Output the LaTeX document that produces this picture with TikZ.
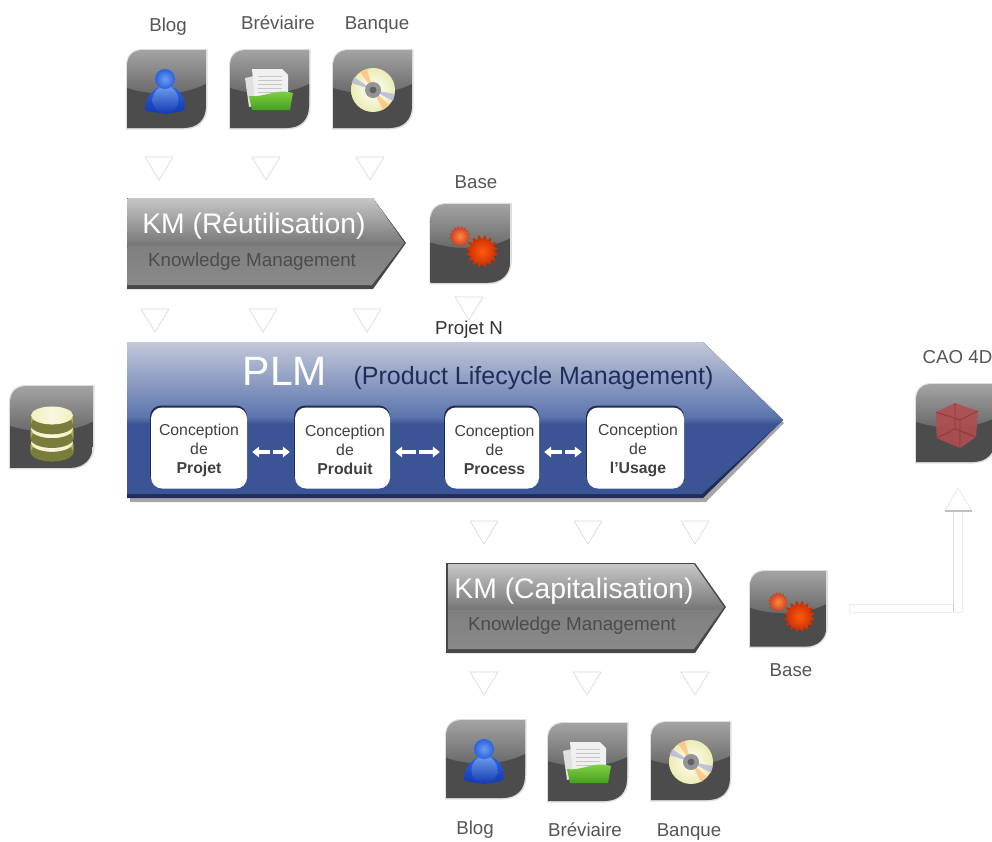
\documentclass[tikz,border=0pt]{standalone}
\usepackage{fontspec}
\setmainfont{Liberation Sans}
\usetikzlibrary{arrows.meta,calc}
\definecolor{lbl}{HTML}{555555}
\definecolor{plmdark}{HTML}{3B5495}
\definecolor{plmtop}{HTML}{C2C8D8}
\definecolor{plmmid}{HTML}{5E76AE}
\definecolor{navy}{HTML}{1F2D5A}
\definecolor{bluehi}{HTML}{6E9CF0}
\definecolor{bluemid}{HTML}{2A62E0}
\definecolor{bluelo}{HTML}{1238B0}
\definecolor{greenhi}{HTML}{8AD84A}
\definecolor{greenlo}{HTML}{45A020}
\definecolor{cubefill}{HTML}{B04E50}
\definecolor{cubeedge}{HTML}{8E3A3C}
\definecolor{gearA}{HTML}{FF8A40}
\definecolor{gearAo}{HTML}{C83A20}
\definecolor{gearB}{HTML}{FF5A10}
\definecolor{gearBo}{HTML}{C42A00}
\definecolor{dbhi}{HTML}{F0F0C0}
\definecolor{dblo}{HTML}{A8A858}
\definecolor{dbtop}{HTML}{F8F8E0}
\definecolor{dbgap}{HTML}{7A7C3C}
\tikzset{
  x=1pt,y=-1pt,
  lab/.style={text=lbl,font=\fontsize{18.7}{20}\selectfont,inner sep=0pt,anchor=base},
  tri/.style={draw=black!14,fill=white,line width=.7pt,line join=round},
  cbox/.style={fill=white,rounded corners=11pt,minimum width=#1,minimum height=81pt,inner sep=0pt,align=center,
     text=black!75,font=\fontsize{15.8}{19}\selectfont},
  dbl/.style={white,line width=4.2pt,-{Triangle[length=7pt,width=10.5pt]},shorten <=1.5pt},
  ghost/.style={draw=black!10,fill=white,line width=.7pt,line join=round}
}
\newcommand{\tridown}[2]{\path[tri] (#1-14,#2) -- (#1+14,#2) -- (#1,#2+23) -- cycle;}
\newcommand{\tileshape}{(0,78) -- (0,16) .. controls (0,6) and (6,0) .. (16,0) -- (79,0) -- (79,56) .. controls (79,70) and (70,78) .. (57,78) -- cycle}
\newcommand{\tilebody}{%
  \fill[black!13] (-1,79.5) -- (-1,16) .. controls (-1,5) and (5,-1) .. (16,-1) -- (80.5,-1) -- (80.5,56) .. controls (80.5,71) and (71,79.5) .. (57,79.5) -- cycle;
  \begin{scope}
    \clip \tileshape;
    \shade[top color=black!36,bottom color=black!60] (0,0) rectangle (79,46);
    \begin{scope}
      \clip (0,38) .. controls (25,46) and (55,46) .. (79,34) -- (79,80) -- (0,80) -- cycle;
      \shade[top color=black!70,middle color=black!56,bottom color=black!70] (0,32) rectangle (79,80);
    \end{scope}
  \end{scope}}
\newcommand{\spiky}[6]{%
  \shade[inner color=#4,outer color=#5] plot[samples=33,domain=0:32,variable=\k]
    ({#1+#3*(1+#6*mod(round(\k),2))*cos(11.25*round(\k))},{#2+#3*(1+#6*mod(round(\k),2))*sin(11.25*round(\k))}) -- cycle;}
\newcommand{\iconperson}{%
  \shade[top color=bluemid,bottom color=bluelo] (18,60) .. controls (18,50) and (24,42) .. (30,38) -- (48,38) .. controls (54,42) and (60,50) .. (57,60) .. controls (50,64) and (26,64) .. (18,60) -- cycle;
  \shade[top color=bluehi,bottom color=bluelo] (38.5,50) ellipse (13 and 14);
  \shade[inner color=bluehi,outer color=bluemid] (38,29) circle (10);}
\newcommand{\iconfolder}{%
  \fill[black!12] (15,28) -- (24,26) -- (28,55) -- (19,57) -- cycle;
  \fill[black!6] (22,19) -- (52,19) -- (58,25) -- (58,52) -- (25,52) -- cycle;
  \foreach \yy in {26,30,34,38,42}{\draw[black!22,line width=.7pt] (28,\yy) -- (52,\yy);}
  \shade[top color=greenhi,bottom color=greenlo] (19,46) .. controls (35,48) and (45,38) .. (63,43) -- (60,60) -- (22,60) -- cycle;}
\newcommand{\iconcd}{%
  \shade[inner color=white,outer color=black!25!yellow!30!white] (40,40) circle (22);
  \fill[orange!50,opacity=.8] (40,40) -- (34,19) -- (27,22) -- cycle;
  \fill[blue!30!gray!45,opacity=.8] (40,40) -- (21,27) -- (18.5,33) -- cycle;
  \fill[blue!30!gray!45,opacity=.8] (40,40) -- (62,44) -- (60,51) -- cycle;
  \fill[orange!50,opacity=.8] (40,40) -- (50,60) -- (56,55) -- cycle;
  \fill[black!42] (40,40) circle (8);
  \fill[black!62] (40,40) circle (3.5);}
\newcommand{\icongears}{%
  \spiky{29}{32}{8}{gearA}{gearAo}{.3}
  \spiky{51}{47}{12}{gearB}{gearBo}{.38}}
\newcommand{\icondb}{%
  \foreach \yy in {54,41,28}{
    \fill[dbgap] (19.5,\yy+1) rectangle (60.5,\yy+9);
    \fill[dbgap] (40,\yy+9) ellipse (20.5 and 9);
    \shade[left color=dblo,right color=dblo,middle color=dbhi] (20,\yy) -- (20,\yy+8) arc (180:360:20 and 8.5) -- (60,\yy) arc (0:180:20 and 8.5) -- cycle;
    \shade[left color=dbhi,right color=dbhi,middle color=dbtop] (40,\yy) ellipse (20 and 8.5);
  }}
\newcommand{\iconcube}{%
  \fill[cubefill,opacity=.9] (20,28) -- (39,19) -- (62,27) -- (60,53) -- (44,64) -- (20.6,54) -- cycle;
  \draw[cubeedge,line width=.9pt] (20,28) -- (44,36) -- (62,27) (44,36) -- (44,64) (39,19) -- (39,45) -- (20.6,54) (39,45) -- (60,53);}
\newcommand{\tile}[4]{\begin{scope}[shift={(#1,#2)},scale=#3]\tilebody #4\end{scope}}
\newcommand{\firstline}{\rule{0pt}{16pt}}
\newcommand{\off}{\hspace*{5pt}}
\begin{document}
\begin{tikzpicture}
\useasboundingbox (0,0) rectangle (992,841);

\node[lab] (l1) at (168,31) {Blog};
\node[lab] (l2) at (278,29) {Bréviaire};
\node[lab] (l3) at (377,29) {Banque};
\node[lab] (l4) at (476,188) {Base};
\node[lab,text=black!80] (l5) at (469,334) {Projet N};
\node[lab] (l6) at (957.5,363) {CAO 4D};
\node[lab] (l7) at (791,676) {Base};
\node[lab] (l8) at (475,834) {Blog};
\node[lab] (l9) at (585,836) {Bréviaire};
\node[lab] (l10) at (689,836) {Banque};

\tile{127}{50}{1}{\iconperson}
\tile{230}{50}{1}{\iconfolder}
\tile{333}{50}{1}{\iconcd}
\tile{430.5}{204}{1.01}{\icongears}
\tile{10}{386}{1.05}{\icondb}
\tile{916}{384}{1}{\iconcube}
\tile{750}{571}{.97}{\icongears}
\tile{446}{720}{1}{\iconperson}
\tile{548}{723}{1}{\iconfolder}
\tile{651}{722}{1}{\iconcd}

\foreach \xx in {159,266,370}{\tridown{\xx}{157}}
\foreach \xx in {155,263,367}{\tridown{\xx}{309}}
\tridown{469}{297}
\foreach \xx in {484,588,695}{\tridown{\xx}{521}}
\foreach \xx in {484,587,695}{\tridown{\xx}{672}}

% KM Reutilisation
\fill[black!72] (127,198) -- (373,198) -- (406,243) -- (373,289) -- (127,289) -- cycle;
\begin{scope}
  \clip (127.5,198) -- (373,198) -- (404.5,243) -- (372,285) -- (127.5,285) -- cycle;
  \shade[top color=black!22,bottom color=black!54] (120,198) rectangle (410,246);
  \shade[top color=black!50,bottom color=black!46] (120,246) rectangle (410,286);
\end{scope}
\node[text=white,inner sep=0pt,font=\fontsize{28.3}{30}\selectfont] (kmr) at (254,226) {KM (Réutilisation)};
\node[text=black!70,inner sep=0pt,font=\fontsize{18.8}{20}\selectfont] (kmr2) at (252,262) {Knowledge Management};

% KM Capitalisation
\fill[black!72] (446,563) -- (695,563) -- (726,607) -- (695,653) -- (446,653) -- cycle;
\begin{scope}
  \clip (448,564) -- (694,564) -- (724,607) -- (694,649) -- (448,649) -- cycle;
  \shade[top color=black!22,bottom color=black!54] (440,564) rectangle (730,610);
  \shade[top color=black!50,bottom color=black!46] (440,610) rectangle (730,650);
\end{scope}
\node[text=white,inner sep=0pt,font=\fontsize{28.3}{30}\selectfont] (kmc) at (574,591) {KM (Capitalisation)};
\node[text=black!70,inner sep=0pt,font=\fontsize{18.8}{20}\selectfont] (kmc2) at (572,626) {Knowledge Management};

% PLM banner
\fill[black!35] (130,346) -- (706,346) -- (784,423) -- (706,502) -- (130,502) -- cycle;
\fill[navy] (127,342) -- (703,342) -- (783,420) -- (703,498) -- (127,498) -- cycle;
\begin{scope}
  \clip (127,342) -- (703,342) -- (783,420) -- (702,494) -- (127,494) -- cycle;
  \fill[plmdark] (120,342) rectangle (790,498);
  \shade[top color=plmtop,bottom color=plmmid] (120,342) rectangle (790,416);
  \shade[top color=plmmid,bottom color=plmdark] (120,416) rectangle (790,424);
\end{scope}
\node[text=white,inner sep=0pt,font=\fontsize{41}{43}\selectfont] (plm) at (285,371) {PLM};
\node[text=navy,inner sep=0pt,font=\fontsize{25}{27}\selectfont] (plmt) at (533.5,378) {(Product Lifecycle Management)};

% white boxes
\foreach \xa/\wa in {199/96,342.5/95,492/94,635.5/97}{
  \fill[plmdark!55!black,rounded corners=11pt] (\xa-\wa/2-1,405.5) rectangle (\xa+\wa/2,486);}
\node[cbox=96pt] (b1) at (199,448) {\firstline Conception\\de\\\textbf{Projet}};
\node[cbox=95pt] (b2) at (342.5,448) {\firstline\off Conception\\\off de\\\off\textbf{Produit}};
\node[cbox=94pt] (b3) at (492,448) {\firstline\off Conception\\\off de\\\off\textbf{Process}};
\node[cbox=97pt] (b4) at (635.5,448) {\firstline\off Conception\\\off de\\\off\textbf{l’Usage}};

\foreach \pa/\pb in {b1/b2,b2/b3,b3/b4}{
  \coordinate (m) at ($(\pa.east)!.5!(\pb.west)+(0,4)$);
  \draw[dbl,shorten >=5pt] (m) -- ($(\pa.east)+(0,4)$);
  \draw[dbl,shorten >=5pt] (m) -- ($(\pb.west)+(0,4)$);
}

% arrow to CAO
\path[ghost,draw=black!7] (849,604) -- (953,604) -- (953,511) (849,604) -- (849,612) -- (962,612) -- (962,511);
\draw[black!12,line width=.7pt] (953,511) -- (953,612);
\draw[black!20,line width=.7pt] (953,604) -- (953,612);
\path[ghost] (945,511) -- (958,488) -- (972,511);
\draw[black!25,line width=1.6pt] (945,511) -- (972,511);
\end{tikzpicture}
\end{document}
